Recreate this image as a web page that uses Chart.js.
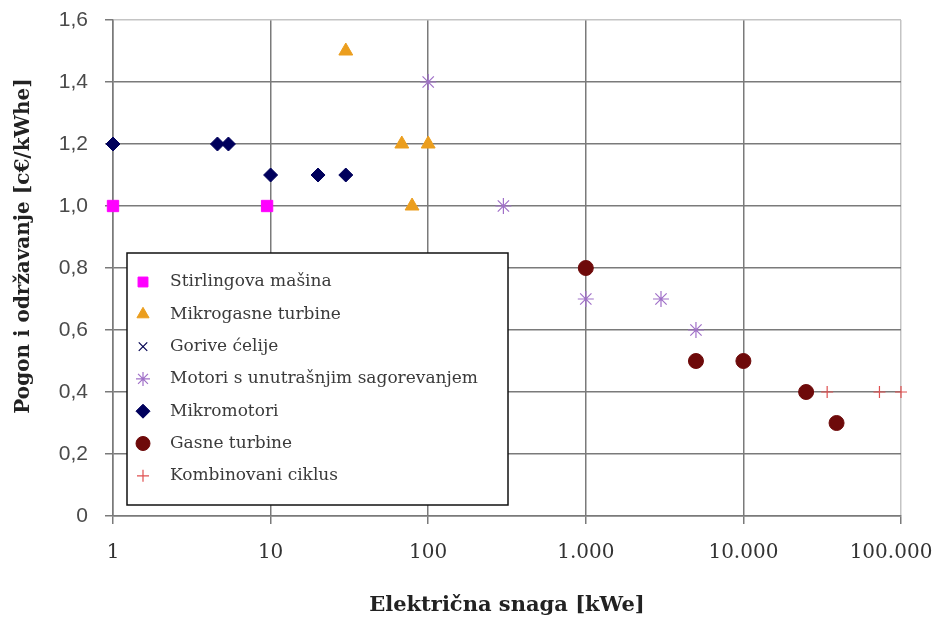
<!DOCTYPE html>
<html>
<head>
  <title>Pogon i održavanje</title>
  <style>
    body {
      margin: 0;
      padding: 0;
      background: #ffffff;
    }
    #wrap {
      width: 936px;
      height: 618px;
      position: relative;
    }
  </style>
</head>
<body>
  <div id="wrap">
    <canvas id="graph"></canvas>
  </div>

  <script src="https://cdn.jsdelivr.net/npm/chart.js"></script>
  <script>
    // Series values (x = kWe, y = c€/kWhe)
    const stirlingX = [1, 9.5];
    const stirlingY = [1.0, 1.0];

    const mikrogasneX = [30, 68, 100, 79];
    const mikrogasneY = [1.5, 1.2, 1.2, 1.0];

    const goriveX = [];
    const goriveY = [];

    const motoriX = [100, 300, 1000, 3000, 5000];
    const motoriY = [1.4, 1.0, 0.7, 0.7, 0.6];

    const mikromotoriX = [1, 4.6, 5.4, 10, 20, 30];
    const mikromotoriY = [1.2, 1.2, 1.2, 1.1, 1.1, 1.1];

    const gasneX = [1000, 5000, 10000, 25000, 39000];
    const gasneY = [0.8, 0.5, 0.5, 0.4, 0.3];

    const kombinovaniX = [34000, 73000, 100000];
    const kombinovaniY = [0.4, 0.4, 0.4];

    const seriesNames = [
      'Stirlingova mašina',
      'Mikrogasne turbine',
      'Gorive ćelije',
      'Motori s unutrašnjim sagorevanjem',
      'Mikromotori',
      'Gasne turbine',
      'Kombinovani ciklus'
    ];

    const xTickValues = [1, 10, 100, 1000, 10000, 100000];
    const xTickLabels = ['1', '10', '100', '1.000', '10.000', '100.000'];
    const yTickLabels = ['0', '0,2', '0,4', '0,6', '0,8', '1,0', '1,2', '1,4', '1,6'];

    const xTitle = 'Električna snaga [kWe]';
    const yTitle = 'Pogon i održavanje [c€/kWhe]';

    function pts(xs, ys) {
      return xs.map((x, i) => ({ x: x, y: ys[i] }));
    }

    const serif = '"DejaVu Serif", serif';
    const sans = '"Liberation Sans", Arial, sans-serif';

    const datasets = [
      { data: pts(stirlingX, stirlingY), pointStyle: 'rect', color: '#ff00ff', radius: 8, borderWidth: 1 },
      { data: pts(mikrogasneX, mikrogasneY), pointStyle: 'triangle', color: '#eb9e1e', radius: 8, borderWidth: 1 },
      { data: pts(goriveX, goriveY), pointStyle: 'crossRot', color: '#000050', radius: 6, borderWidth: 1.2 },
      { data: pts(motoriX, motoriY), pointStyle: 'star', color: '#a070c8', radius: 8, borderWidth: 1.2 },
      { data: pts(mikromotoriX, mikromotoriY), pointStyle: 'rectRot', color: '#00005c', radius: 7, borderWidth: 1 },
      { data: pts(gasneX, gasneY), pointStyle: 'circle', color: '#6e0a0a', radius: 7.5, borderWidth: 1 },
      { data: pts(kombinovaniX, kombinovaniY), pointStyle: 'cross', color: '#e05050', radius: 6, borderWidth: 1.2 }
    ].map((d, i) => ({
      label: seriesNames[i],
      data: d.data,
      showLine: false,
      clip: false,
      pointStyle: d.pointStyle,
      pointRadius: d.radius,
      pointHoverRadius: d.radius,
      pointBackgroundColor: d.color,
      pointBorderColor: d.color,
      pointBorderWidth: d.borderWidth,
      backgroundColor: d.color,
      borderColor: d.color
    }));

    // legend drawn as a boxed panel inside the plot area, plus the rotated y title
    const boxLegend = {
      id: 'boxLegend',
      afterDraw(chart) {
        const ctx = chart.ctx;
        const left = 127, top = 253, w = 381, h = 252;
        ctx.save();
        ctx.fillStyle = '#ffffff';
        ctx.fillRect(left, top, w, h);
        ctx.strokeStyle = '#111111';
        ctx.lineWidth = 1.5;
        ctx.strokeRect(left, top, w, h);
        ctx.font = '17px ' + serif;
        ctx.textBaseline = 'middle';
        chart.data.datasets.forEach((ds, i) => {
          const y = top + 29 + i * 32.3;
          ctx.fillStyle = ds.pointBackgroundColor;
          ctx.strokeStyle = ds.pointBorderColor;
          ctx.lineWidth = ds.pointBorderWidth;
          Chart.helpers.drawPoint(ctx, {
            pointStyle: ds.pointStyle,
            radius: Math.min(ds.pointRadius, 7),
            borderWidth: ds.pointBorderWidth,
            rotation: 0
          }, left + 16, y);
          ctx.fillStyle = '#3a3a3a';
          ctx.fillText(ds.label, left + 43, y);
        });

        ctx.translate(24, 246);
        ctx.rotate(-Math.PI / 2);
        ctx.textAlign = 'center';
        ctx.fillStyle = '#222222';
        ctx.font = 'bold 20px ' + serif;
        ctx.fillText(yTitle, 0, 0);
        ctx.restore();
      }
    };

    const ctx = document.getElementById('graph').getContext('2d');
    new Chart(ctx, {
      type: 'scatter',
      data: { datasets: datasets },
      options: {
        responsive: true,
        maintainAspectRatio: false,
        animation: false,
        layout: { padding: { top: 20, right: 35, left: 0, bottom: 0 } },
        plugins: {
          legend: { display: false },
          tooltip: { enabled: false }
        },
        scales: {
          x: {
            type: 'logarithmic',
            min: 1,
            max: 100000,
            afterBuildTicks(axis) {
              axis.ticks = xTickValues.map(v => ({ value: v }));
            },
            afterFit(axis) {
              axis.height = 102;
              axis.paddingRight = 0;
              axis.paddingLeft = 0;
            },
            grid: {
              color: c => (c.index === xTickValues.length - 1 ? '#c4c4c4' : '#7a7a7a'),
              lineWidth: 1.5,
              drawTicks: true,
              tickLength: 8,
              tickColor: '#7a7a7a'
            },
            border: { color: '#7a7a7a', width: 1.5 },
            ticks: {
              autoSkip: false,
              maxRotation: 0,
              padding: 17,
              color: '#333333',
              font: { family: serif, size: 20 },
              // last label sits a little left of its tick, like the original
              callback: (v, i) => (i === xTickLabels.length - 1 ? xTickLabels[i] + '\u2002\u2002' : xTickLabels[i])
            },
            title: {
              display: true,
              text: xTitle,
              color: '#222222',
              font: { family: serif, size: 21, weight: 'bold' },
              padding: { top: 18, bottom: 0 }
            }
          },
          y: {
            min: 0,
            max: 1.6,
            ticks: {
              stepSize: 0.2,
              padding: 17,
              color: '#4a4a4a',
              font: { family: sans, size: 21 },
              callback: (v, i) => yTickLabels[i]
            },
            afterFit(axis) {
              axis.width = 113;
              axis.paddingTop = 0;
              axis.paddingBottom = 0;
            },
            grid: {
              color: c => (c.index === yTickLabels.length - 1 ? '#c4c4c4' : '#7a7a7a'),
              lineWidth: 1.5,
              tickLength: 8,
              tickColor: '#7a7a7a'
            },
            border: { color: '#7a7a7a', width: 1.5 },
            title: { display: false }
          }
        }
      },
      plugins: [boxLegend]
    });
  </script>
</body>
</html>
